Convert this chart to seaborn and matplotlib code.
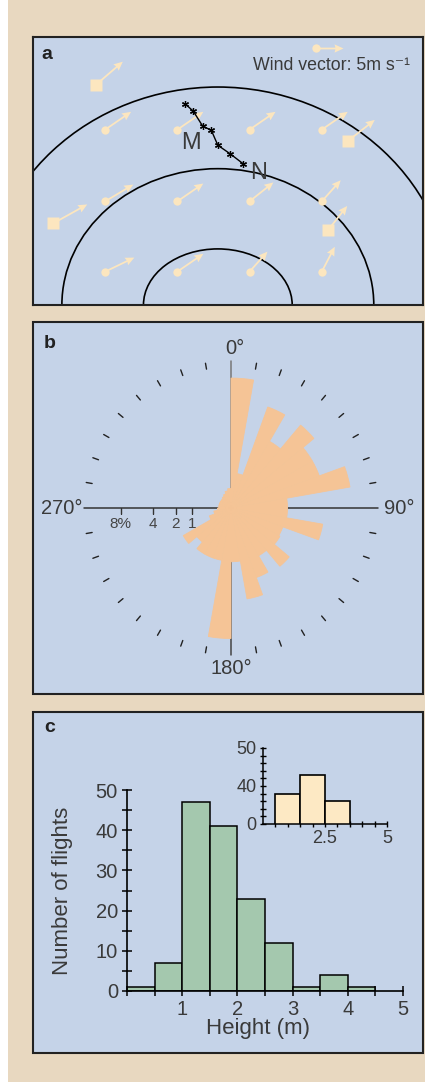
import numpy as np
import matplotlib
matplotlib.use("Agg")
import matplotlib.pyplot as plt
from matplotlib.patches import Arc, Rectangle
import seaborn as sns

sns.set_style("white")
plt.rcParams['font.family'] = ['Liberation Sans', 'DejaVu Sans']

# ---- panel a: wind field, flight track, arena arcs
grid_x = [1, 2, 3, 4, 1, 2, 3, 4, 1, 2, 3, 4]
grid_y = [2.47, 2.47, 2.47, 2.47, 1.46, 1.46, 1.46, 1.46, 0.47, 0.47, 0.47, 0.47]
grid_u = [4.8, 4.8, 4.8, 4.8, 5.2, 4.8, 4.4, 3.5, 5.4, 4.8, 3.3, 2.4]
grid_v = [3.3, 3.3, 3.3, 3.3, 3.1, 3.3, 3.5, 3.9, 2.6, 3.3, 3.7, 4.6]
sq_x = [0.87, 4.36, 0.28, 4.09]
sq_y = [3.10, 2.31, 1.15, 1.06]
sq_u = [5.0, 5.0, 6.3, 3.5]
sq_v = [4.3, 3.9, 3.5, 4.4]
key_x, key_y, key_speed = 3.92, 3.62, 5.0
track_x = [2.11, 2.22, 2.35, 2.47, 2.56, 2.73, 2.91]
track_y = [2.83, 2.73, 2.52, 2.46, 2.25, 2.13, 1.99]
arc_cx = 2.56
arc_rx = [1.03, 2.16, 3.24]
arc_ry = [0.79, 1.92, 3.07]

# ---- panel b: direction rose (% of flights per 10 deg sector)
sector_start = list(range(0, 360, 10))
rose_pct = [11.1, 0.8, 7.6, 3.9, 7.7, 5.8, 5.8, 9.6, 2.1,
            2.1, 5.7, 2.0, 2.1, 3.8, 2.0, 3.6, 5.6, 1.9,
            11.2, 1.85, 1.85, 1.85, 1.3, 2.0, 0.35, 0.2, 0.12,
            0.1, 0.1, 0.1, 0.1, 0.1, 0.12, 0.15, 0.2, 0.25]
rose_ticks = [1, 2, 4, 8]
rose_tick_labels = ["1", "2", "4", "8%"]

# ---- panel c: flight heights
bin_edges = [0, 0.5, 1, 1.5, 2, 2.5, 3, 3.5, 4, 4.5]
flights = [1, 7, 47, 41, 23, 12, 1, 4, 1]
inset_edges = [0.5, 1.5, 2.5, 3.5]
inset_counts = [38, 43, 36]

TAN = "#E8D8C0"
BLUE = "#C5D3E8"
CREAM = "#FCE6BF"
PEACH = "#F5C496"
GREEN = "#A4C8AE"
INSET = "#FDE9C4"
TXT = "#3a3a3a"
EDGE = "#222222"

W, H = 425, 1082
fig = plt.figure(figsize=(W / 100, H / 100), dpi=100, facecolor=TAN)


def box(l, t, r, b):
    return [l / W, 1 - b / H, (r - l) / W, (b - t) / H]


def panel(t, b):
    fig.patches.append(Rectangle((33 / W, 1 - b / H), 390 / W, (b - t) / H,
                                 transform=fig.transFigure, facecolor=BLUE,
                                 edgecolor=EDGE, lw=1.5, zorder=-5))


fig.patches.append(Rectangle((0, 0), 8 / W, 1, transform=fig.transFigure,
                             facecolor="white", edgecolor="none", zorder=-5))

# ================= a
ax = fig.add_axes(box(33, 37, 423, 305))
ax.set_facecolor(BLUE)
ax.set_xlim(0, 390 / 72.2)
ax.set_ylim(0, 268 / 71)
for s in ax.spines.values():
    s.set_color(EDGE)
    s.set_linewidth(1.5)
ax.set_xticks([1, 2, 3, 4, 5])
ax.set_yticks([1, 2, 3])
ax.tick_params(direction="in", length=4, width=1, colors="black",
               labelbottom=False, labelleft=False)

for rx, ry in zip(arc_rx, arc_ry):
    ax.add_patch(Arc((arc_cx, 0), 2 * rx, 2 * ry, theta1=0, theta2=180,
                     color="black", lw=1.2))

qkw = dict(angles="uv", scale_units="inches", scale=5 / 0.27, units="inches",
           width=0.018, headwidth=4.6, headlength=5, headaxislength=4.5,
           color=CREAM, zorder=3)
ax.quiver(grid_x, grid_y, grid_u, grid_v, **qkw)
ax.quiver(sq_x, sq_y, sq_u, sq_v, **qkw)
ax.quiver([key_x], [key_y], [key_speed], [0], **qkw)
ax.plot(grid_x, grid_y, "o", ms=6, color=CREAM, mec="none", zorder=3)
ax.plot([key_x], [key_y], "o", ms=6, color=CREAM, mec="none", zorder=3)
ax.plot(sq_x, sq_y, "s", ms=8, color=CREAM, mec="none", zorder=3)

ax.plot(track_x, track_y, color="black", lw=1.0, marker=(6, 2, 0), ms=5,
        mew=0.9, zorder=4)
ax.text(track_x[3] - 0.28, track_y[3] - 0.18, "M", fontsize=17, color=TXT,
        ha="center", va="center", zorder=5)
ax.text(track_x[-1] + 0.22, track_y[-1] - 0.13, "N", fontsize=17, color=TXT,
        ha="center", va="center", zorder=5)
ax.text(0.967, 0.892, "Wind vector: 5m s\u207b\u00b9", transform=ax.transAxes,
        fontsize=12.8, color=TXT, ha="right", va="center")
ax.text(0.036, 0.933, "a", transform=ax.transAxes, fontsize=14,
        fontweight="heavy", color="#222", ha="center", va="center")

# ================= b
panel(322, 694)
fig.text(50 / W, 1 - 343 / H, "b", fontsize=14, fontweight="heavy",
         color="#222", ha="center", va="center")

R = 150
pax = fig.add_axes(box(231 - R, 508 - R, 231 + R, 508 + R), projection="polar")
pax.set_theta_zero_location("N")
pax.set_theta_direction(-1)
rmax = R / 39.0
pax.set_ylim(0, rmax)
pax.axis("off")

r_line = 147 / 39.0
for deg, col in [(0, "#777"), (180, "#444"), (90, "#333"), (270, "#333")]:
    pax.plot([np.deg2rad(deg)] * 2, [0, r_line], color=col, lw=1.1, zorder=1)
for deg in range(10, 360, 10):
    if deg % 90 == 0:
        continue
    pax.plot([np.deg2rad(deg)] * 2, [141 / 39, 147 / 39], color="#222",
             lw=1.0, zorder=1)

pax.bar(np.deg2rad(sector_start), np.sqrt(rose_pct), width=np.deg2rad(10),
        align="edge", color=PEACH, edgecolor=PEACH, linewidth=0.6, zorder=2)

west = np.deg2rad(270)
pax.plot([west] * len(rose_ticks), np.sqrt(rose_ticks), ls="none", marker=3,
         ms=4, color="#333", zorder=1)
for v, lab in zip(rose_ticks, rose_tick_labels):
    pax.annotate(lab, xy=(west, np.sqrt(v)), xytext=(0, -16),
                 textcoords="offset pixels", ha="center", va="center",
                 fontsize=11, color="#444", annotation_clip=False)

r_lab = 160 / 39.0
pax.annotate("0\u00b0", xy=(0, r_lab), xytext=(4, 0), textcoords="offset pixels",
             ha="center", va="center", fontsize=14.5, color=TXT,
             annotation_clip=False)
pax.annotate("180\u00b0", xy=(np.pi, r_lab), xytext=(0, 0),
             textcoords="offset pixels", ha="center", va="center",
             fontsize=14.5, color=TXT, annotation_clip=False)
pax.annotate("90\u00b0", xy=(np.pi / 2, 153 / 39), xytext=(0, 0),
             textcoords="offset pixels", ha="left", va="center",
             fontsize=14.5, color=TXT, annotation_clip=False)
pax.annotate("270\u00b0", xy=(west, 148 / 39), xytext=(0, 0),
             textcoords="offset pixels", ha="right", va="center",
             fontsize=14.5, color=TXT, annotation_clip=False)

# ================= c
panel(712, 1053)
fig.text(50 / W, 1 - 727 / H, "c", fontsize=14, fontweight="heavy",
         color="#222", ha="center", va="center")

cax = fig.add_axes(box(127, 790, 403, 991))
cax.patch.set_alpha(0)
sns.histplot(x=np.array(bin_edges[:-1]) + 0.25, weights=flights, bins=bin_edges,
             color=GREEN, edgecolor="black", linewidth=1.1, alpha=1, ax=cax)
cax.set_xlim(0, 5)
cax.set_ylim(0, 50)
sns.despine(ax=cax)
for side in ["left", "bottom"]:
    cax.spines[side].set_color("black")
    cax.spines[side].set_linewidth(1.2)
cax.set_xticks([1, 2, 3, 4, 5])
cax.set_xticks(np.arange(0, 5.01, 0.5), minor=True)
cax.set_yticks(range(0, 51, 10))
cax.set_yticks(range(0, 51, 5), minor=True)
cax.tick_params(which="both", direction="inout", length=7, width=1.1,
                colors="black", labelcolor=TXT, labelsize=14.5, pad=3,
                bottom=True, left=True)
cax.set_xlabel("Height (m)", fontsize=16, color=TXT)
cax.set_ylabel("Number of flights", fontsize=16, color=TXT)
cax.xaxis.set_label_coords(0.475, -0.135)
cax.yaxis.set_label_coords(-0.196, 0.5)

iax = fig.add_axes(box(263, 748, 387, 824))
iax.patch.set_alpha(0)
sns.histplot(x=[1, 2, 3], weights=inset_counts, bins=inset_edges, color=INSET,
             edgecolor="black", linewidth=1.2, alpha=1, ax=iax)
iax.set_xlim(0, 5)
iax.set_ylim(30, 50)
sns.despine(ax=iax)
for side in ["left", "bottom"]:
    iax.spines[side].set_color("black")
    iax.spines[side].set_linewidth(1.1)
iax.set_xticks([2.5, 5])
iax.set_xticklabels(["2.5", "5"])
iax.set_xticks(np.arange(0.5, 5.01, 0.5), minor=True)
iax.set_yticks([30, 40, 50])
iax.set_yticklabels(["0", "40", "50"])
iax.set_yticks(range(30, 51, 2), minor=True)
iax.tick_params(which="both", direction="inout", length=5, width=1,
                colors="black", labelcolor=TXT, labelsize=13, pad=2,
                bottom=True, left=True)
iax.set_xlabel("")
iax.set_ylabel("")

fig.savefig("out.png", dpi=100, facecolor=TAN)
